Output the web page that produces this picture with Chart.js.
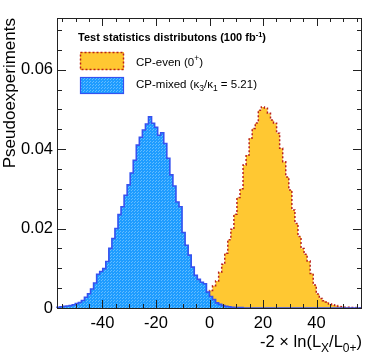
<!DOCTYPE html>
<html>
<head>
<meta charset="utf-8">
<script src="https://cdn.jsdelivr.net/npm/chart.js@4"></script>
<style>
  html, body { margin: 0; padding: 0; background: #fff; }
</style>
</head>
<body>
<canvas id="graficoTest" width="382" height="363"></canvas>
<script>
// binning: 100 bins from -57 to 57
const binLow = -57;
const binWidth = 1.14;
const xTicks = [-40, -20, 0, 20, 40];
const yTicks = [0, 0.02, 0.04, 0.06];

// CP-mixed (k3/k1 = 5.21), fraction of pseudoexperiments per bin
const cpMixed = [
  0.0002, 0.0003, 0.0004, 0.0005, 0.0006, 0.0008, 0.0011, 0.0014, 0.0019, 0.0027,
  0.0036, 0.0048, 0.0063, 0.0085, 0.0092, 0.0099, 0.0117, 0.0150, 0.0175, 0.0200,
  0.0235, 0.0255, 0.0284, 0.0310, 0.0340, 0.0372, 0.0410, 0.0430, 0.0448, 0.0463,
  0.0481, 0.0465, 0.0455, 0.0435, 0.0441, 0.0414, 0.0377, 0.0335, 0.0307, 0.0267,
  0.0255, 0.0190, 0.0158, 0.0133, 0.0103, 0.0082, 0.0072, 0.0065, 0.0061, 0.0040,
  0.0029, 0.0021, 0.0013, 0.0009, 0.0006, 0.0004, 0.0003, 0.0002, 0.0001, 0.0001,
  0.0001, 0, 0, 0, 0, 0, 0, 0, 0, 0,
  0, 0, 0, 0, 0, 0, 0, 0, 0, 0,
  0, 0, 0, 0, 0, 0, 0, 0, 0, 0,
  0, 0, 0, 0, 0, 0, 0, 0, 0, 0
];

// CP-even (0+)
const cpEven = [
  0, 0, 0, 0, 0, 0, 0, 0, 0, 0,
  0, 0, 0, 0, 0, 0, 0, 0, 0, 0,
  0, 0, 0, 0, 0, 0, 0, 0, 0, 0,
  0, 0, 0, 0, 0, 0, 0, 0, 0.0001, 0.0001,
  0.0002, 0.0002, 0.0003, 0.0004, 0.0006, 0.0008, 0.0012, 0.0017, 0.0023, 0.0031,
  0.0044, 0.0056, 0.0068, 0.0090, 0.0110, 0.0138, 0.0172, 0.0198, 0.0236, 0.0278,
  0.0300, 0.0360, 0.0385, 0.0428, 0.0452, 0.0466, 0.0498, 0.0506, 0.0503, 0.0490,
  0.0473, 0.0465, 0.0440, 0.0402, 0.0368, 0.0330, 0.0297, 0.0247, 0.0213, 0.0180,
  0.0150, 0.0135, 0.0118, 0.0087, 0.0058, 0.0035, 0.0024, 0.0018, 0.0015, 0.0010,
  0.0008, 0.0006, 0.0004, 0.0003, 0.0002, 0.0002, 0.0001, 0.0001, 0, 0
];

const FONT = "'Liberation Sans', Arial, Helvetica, sans-serif";
const yellow = '#ffc832';
const redDots = '#b8201e';
const blueLine = '#3552f0';

// step-histogram points (left edge of each bin)
function histPoints(values) {
  const pts = [{ x: binLow, y: 0 }];
  values.forEach((v, i) => pts.push({ x: binLow + i * binWidth, y: v }));
  pts.push({ x: binLow + values.length * binWidth, y: 0 });
  return pts;
}

// dotted blue fill like ROOT
function bluePattern() {
  const c = document.createElement('canvas');
  c.width = 3; c.height = 3;
  const p = c.getContext('2d');
  p.fillStyle = '#1e9cff';
  p.fillRect(0, 0, 3, 3);
  p.fillStyle = '#62bcff';
  p.fillRect(0, 0, 1, 1);
  p.fillRect(2, 1, 1, 1);
  return p.createPattern(c, 'repeat');
}
const blueFill = bluePattern();

// draws text pieces with sub/superscripts, returns width
function richText(ctx, parts, x, y, measureOnly) {
  let cx = x;
  parts.forEach(pt => {
    ctx.font = pt.font;
    if (!measureOnly) ctx.fillText(pt.t, cx, y + (pt.dy || 0));
    cx += ctx.measureText(pt.t).width;
  });
  return cx - x;
}

const marcoPlugin = {
  id: 'marco',
  afterDatasetsDraw(chart) {
    const { ctx, chartArea: a, scales: { x, y } } = chart;
    ctx.save();
    ctx.strokeStyle = '#222';
    ctx.lineWidth = 1;
    const seg = (x1, y1, x2, y2) => {
      ctx.beginPath(); ctx.moveTo(x1, y1); ctx.lineTo(x2, y2); ctx.stroke();
    };
    ctx.strokeRect(a.left + 0.5, a.top + 0.5, a.right - a.left - 1, a.bottom - a.top);
    for (let v = -55; v <= 55; v += 5) {
      const px = Math.round(x.getPixelForValue(v)) + 0.5;
      const len = v % 20 === 0 ? 8 : 4;
      seg(px, a.bottom, px, a.bottom - len);
      seg(px, a.top, px, a.top + len);
    }
    for (let k = 1; k <= 14; k++) {
      const v = k * 0.005;
      const py = Math.round(y.getPixelForValue(v)) + 0.5;
      const len = k % 4 === 0 ? 9 : 5;
      seg(a.left, py, a.left + len, py);
      seg(a.right, py, a.right - len, py);
    }
    ctx.restore();
  },
  afterDraw(chart) {
    const { ctx, chartArea: a } = chart;
    ctx.save();
    ctx.fillStyle = '#000';
    ctx.textBaseline = 'alphabetic';

    // x axis title, right aligned
    const big = '16.5px ' + FONT, small = '12px ' + FONT;
    const xt = [
      { t: '-2 \u00d7 ln(L', font: big },
      { t: 'X', font: small, dy: 5 },
      { t: '/L', font: big },
      { t: '0+', font: small, dy: 5 },
      { t: ')', font: big }
    ];
    const w = richText(ctx, xt, 0, 0, true);
    richText(ctx, xt, a.right - w, 347);

    // legend
    const bold = 'bold 11px ' + FONT, boldSup = 'bold 7.5px ' + FONT;
    richText(ctx, [
      { t: 'Test statistics distributons (100 fb', font: bold },
      { t: '-1', font: boldSup, dy: -4 },
      { t: ')', font: bold }
    ], 78, 41);

    ctx.fillStyle = yellow;
    ctx.fillRect(80, 52, 44, 18);
    ctx.strokeStyle = redDots;
    ctx.lineWidth = 1.5;
    ctx.setLineDash([2, 2]);
    ctx.strokeRect(80.5, 52.5, 43, 17);
    ctx.setLineDash([]);

    ctx.fillStyle = blueFill;
    ctx.fillRect(80, 77, 44, 17);
    ctx.strokeStyle = blueLine;
    ctx.lineWidth = 1.2;
    ctx.strokeRect(80.5, 77.5, 43, 16);

    const reg = '11.5px ' + FONT, sm = '8.5px ' + FONT;
    ctx.fillStyle = '#000';
    richText(ctx, [
      { t: 'CP-even (0', font: reg },
      { t: '+', font: sm, dy: -5 },
      { t: ')', font: reg }
    ], 136, 66);
    richText(ctx, [
      { t: 'CP-mixed (\u03ba', font: reg },
      { t: '3', font: sm, dy: 3 },
      { t: '/\u03ba', font: reg },
      { t: '1', font: sm, dy: 3 },
      { t: ' = 5.21)', font: reg }
    ], 136, 88);
    ctx.restore();
  }
};

const ctx = document.getElementById('graficoTest').getContext('2d');

new Chart(ctx, {
  type: 'line',
  data: {
    datasets: [
      {
        label: 'CP-mixed',
        data: histPoints(cpMixed),
        stepped: 'before',
        fill: 'origin',
        backgroundColor: blueFill,
        borderColor: blueLine,
        borderWidth: 1.6,
        pointRadius: 0,
        clip: 3
      },
      {
        label: 'CP-even',
        data: histPoints(cpEven),
        stepped: 'before',
        fill: 'origin',
        backgroundColor: yellow,
        borderColor: redDots,
        borderWidth: 1.5,
        borderDash: [2, 2],
        pointRadius: 0,
        clip: 3
      }
    ]
  },
  options: {
    responsive: false,
    animation: false,
    layout: { padding: { left: 0, right: 20, top: 18, bottom: 0 } },
    plugins: {
      legend: { display: false },
      tooltip: { enabled: false }
    },
    scales: {
      x: {
        type: 'linear',
        min: binLow,
        max: binLow + 100 * binWidth,
        afterBuildTicks: s => { s.ticks = xTicks.map(v => ({ value: v })); },
        afterFit: s => { s.height = 55; },
        grid: { display: false, drawTicks: false },
        border: { display: false },
        ticks: {
          color: '#000',
          padding: 6,
          maxRotation: 0,
          font: { family: FONT, size: 16.5 },
          callback: v => String(v)
        }
      },
      y: {
        min: 0,
        max: 0.073,
        afterBuildTicks: s => { s.ticks = yTicks.map(v => ({ value: v })); },
        afterFit: s => { s.width = 57; },
        grid: { display: false, drawTicks: false },
        border: { display: false },
        ticks: {
          color: '#000',
          padding: 4,
          font: { family: FONT, size: 16.5 },
          callback: v => (v === 0 ? '0' : v.toFixed(2))
        },
        title: {
          display: true,
          text: 'Pseudoexperiments',
          align: 'end',
          color: '#000',
          padding: { top: 0, bottom: 0 },
          font: { family: FONT, size: 17 }
        }
      }
    }
  },
  plugins: [marcoPlugin]
});
</script>
</body>
</html>
